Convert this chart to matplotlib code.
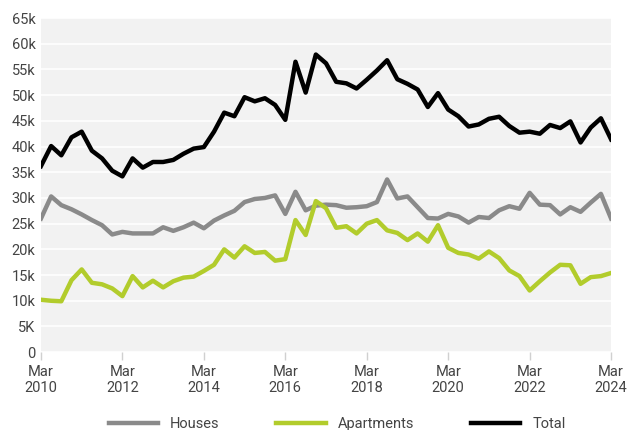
import matplotlib.pyplot as plt
import numpy as np

# Quarterly values (thousands), Mar 2010 .. Mar 2024
houses = [26.0, 30.3, 28.6, 27.8, 26.8, 25.7, 24.7, 22.9, 23.4, 23.1,
          23.1, 23.1, 24.3, 23.6, 24.3, 25.2, 24.1, 25.6, 26.6, 27.5,
          29.2, 29.8, 30.0, 30.5, 26.9, 31.2, 27.6, 28.5, 28.7, 28.6,
          28.1, 28.2, 28.4, 29.2, 33.6, 29.9, 30.3, 28.2, 26.1, 26.0,
          26.9, 26.4, 25.2, 26.3, 26.1, 27.6, 28.4, 27.9, 31.0, 28.7,
          28.6, 26.8, 28.2, 27.3, 29.1, 30.8, 26.0]
apartments = [10.2, 10.0, 9.9, 14.0, 16.1, 13.5, 13.2, 12.4, 10.9, 14.8,
              12.6, 13.9, 12.6, 13.8, 14.5, 14.7, 15.8, 17.0, 20.0, 18.4,
              20.6, 19.3, 19.5, 17.8, 18.1, 25.7, 22.8, 29.4, 28.0, 24.2,
              24.5, 23.1, 25.0, 25.7, 23.7, 23.2, 21.8, 23.1, 21.5, 24.7,
              20.3, 19.3, 19.0, 18.2, 19.6, 18.3, 15.9, 14.8, 12.0, 13.8,
              15.5, 17.0, 16.9, 13.3, 14.6, 14.8, 15.4]
total = [36.2, 40.1, 38.3, 41.8, 42.9, 39.2, 37.7, 35.3, 34.2, 37.7,
         35.9, 37.0, 37.0, 37.4, 38.6, 39.6, 39.9, 42.9, 46.6, 45.9,
         49.6, 48.8, 49.4, 48.1, 45.2, 56.5, 50.5, 57.9, 56.2, 52.6,
         52.3, 51.3, 53.0, 54.8, 56.8, 53.1, 52.2, 51.1, 47.7, 50.4,
         47.2, 45.9, 43.9, 44.3, 45.4, 45.8, 44.0, 42.7, 42.9, 42.5,
         44.2, 43.6, 44.9, 40.8, 43.7, 45.5, 41.4]

year_labels = ["Mar\n2010", "Mar\n2012", "Mar\n2014", "Mar\n2016",
               "Mar\n2018", "Mar\n2020", "Mar\n2022", "Mar\n2024"]
y_ticks = [0, 5, 10, 15, 20, 25, 30, 35, 40, 45, 50, 55, 60, 65]
y_labels = ["0", "5K", "10k", "15k", "20k", "25k", "30k", "35k", "40k",
            "45k", "50k", "55k", "60k", "65k"]

plt.rcParams["font.family"] = ["Roboto", "DejaVu Sans"]

fig = plt.figure(figsize=(6.3, 4.3), dpi=100)
ax = fig.add_axes([0.065, 0.181, 0.905, 0.777])
ax.set_facecolor("#f2f2f2")

x = np.arange(len(total))
ax.plot(x, houses, color="#8a8a8a", lw=3.2, label="Houses")
ax.plot(x, apartments, color="#b2cc2c", lw=3.2, label="Apartments")
ax.plot(x, total, color="black", lw=3.2, label="Total")

ax.set_xlim(0, len(total) - 1)
ax.set_ylim(0, 65)
ax.set_yticks(y_ticks)
ax.set_yticklabels(y_labels)
ax.set_xticks(np.arange(0, len(total), 8))
ax.set_xticklabels(year_labels)

ax.grid(axis="y", color="white", lw=1.2)
ax.set_axisbelow(True)
for s in ax.spines.values():
    s.set_visible(False)
ax.tick_params(axis="y", length=0, labelsize=10.5, labelcolor="#444444", pad=4)
ax.tick_params(axis="x", length=6, color="#d0d0d0", width=1, labelsize=10.5,
               labelcolor="#444444", pad=3)

fig.legend(loc="lower center", ncol=3, frameon=False, fontsize=10.5,
           handlelength=3.4, columnspacing=3.9, bbox_to_anchor=(0.535, -0.033),
           labelcolor="#444444")

fig.savefig("out.png", dpi=100)
